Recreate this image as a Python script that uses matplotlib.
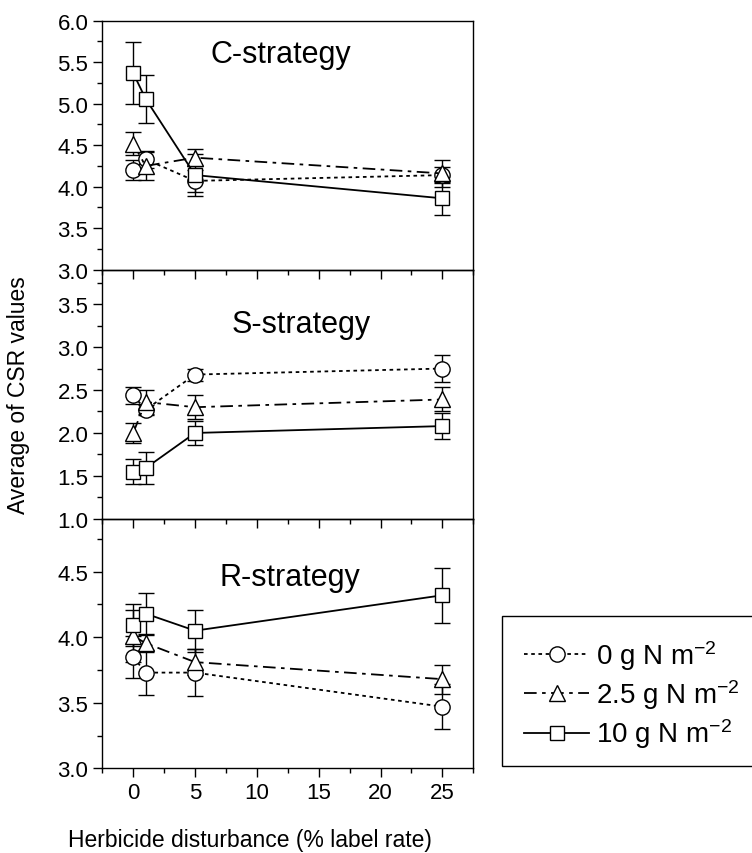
import matplotlib
matplotlib.use('Agg')
import matplotlib.pyplot as plt
from matplotlib.ticker import MultipleLocator
from matplotlib.patches import Rectangle

plt.rcParams['font.family'] = ['Liberation Sans', 'DejaVu Sans']

x = [0, 1, 5, 25]

# C-strategy
c_n0 = [4.20, 4.33, 4.07, 4.14]
c_n0_err = [0.12, 0.10, 0.13, 0.10]
c_n25 = [4.52, 4.25, 4.35, 4.16]
c_n25_err = [0.14, 0.17, 0.10, 0.16]
c_n10 = [5.37, 5.06, 4.14, 3.86]
c_n10_err = [0.37, 0.29, 0.25, 0.20]

# S-strategy
s_n0 = [2.44, 2.27, 2.68, 2.75]
s_n0_err = [0.10, 0.06, 0.07, 0.16]
s_n25 = [2.00, 2.36, 2.30, 2.39]
s_n25_err = [0.12, 0.14, 0.14, 0.14]
s_n10 = [1.55, 1.59, 2.00, 2.08]
s_n10_err = [0.15, 0.19, 0.14, 0.15]

# R-strategy
r_n0 = [3.85, 3.73, 3.73, 3.47]
r_n0_err = [0.16, 0.17, 0.18, 0.17]
r_n25 = [4.01, 3.955, 3.81, 3.68]
r_n25_err = [0.20, 0.07, 0.10, 0.11]
r_n10 = [4.09, 4.18, 4.05, 4.32]
r_n10_err = [0.16, 0.16, 0.16, 0.21]

labels = ['0 g N m$\\mathregular{^{-2}}$', '2.5 g N m$\\mathregular{^{-2}}$', '10 g N m$\\mathregular{^{-2}}$']
styles = [((0, (2, 2)), 'o', 11), ((0, (7, 3, 2, 3)), '^', 12), ('-', 's', 10)]

panels = [
    ('C-strategy', [(c_n0, c_n0_err), (c_n25, c_n25_err), (c_n10, c_n10_err)], (3.0, 6.0), (11.9, 5.50)),
    ('S-strategy', [(s_n0, s_n0_err), (s_n25, s_n25_err), (s_n10, s_n10_err)], (1.0, 3.9), (13.6, 3.18)),
    ('R-strategy', [(r_n0, r_n0_err), (r_n25, r_n25_err), (r_n10, r_n10_err)], (3.0, 4.9), (12.7, 4.40)),
]

fig = plt.figure(figsize=(7.52, 8.54), dpi=100)
left, width, h = 0.136, 0.4934, 0.2916
bottoms = [0.683, 0.3913, 0.0992]

handles = []
for i, (title, series, ylim, tpos) in enumerate(panels):
    ax = fig.add_axes([left, bottoms[i], width, h])
    ax.patch.set_visible(False)
    for (y, e), (ls, mk, ms) in zip(series, styles):
        ax.errorbar(x, y, yerr=e, fmt='none', ecolor='black', elinewidth=1.0,
                    capsize=6, capthick=1.0, zorder=2)
        ln, = ax.plot(x, y, linestyle=ls, color='black', lw=1.3, marker=mk,
                      markersize=ms, markerfacecolor='white', markeredgecolor='black',
                      markeredgewidth=1.0, zorder=3)
        if i == 2:
            handles.append(ln)
    ax.set_xlim(-2.5, 27.5)
    ax.set_ylim(*ylim)
    ax.xaxis.set_major_locator(MultipleLocator(5))
    ax.xaxis.set_minor_locator(MultipleLocator(2.5))
    ax.yaxis.set_major_locator(MultipleLocator(0.5))
    ax.yaxis.set_minor_locator(MultipleLocator(0.25))
    ax.yaxis.set_major_formatter(plt.FormatStrFormatter('%.1f'))
    ax.tick_params(which='both', direction='out', top=False, right=False, labelsize=16)
    ax.tick_params(which='major', length=6.5, width=1.0)
    ax.tick_params(which='minor', length=3.5, width=1.0)
    if i < 2:
        ax.tick_params(axis='x', labelbottom=False)
    for sp in ax.spines.values():
        sp.set_linewidth(1.0)
    ax.text(tpos[0], tpos[1], title, fontsize=22, ha='center', va='baseline')

fig.text(250 / 752, 1 - 847 / 854, 'Herbicide disturbance (% label rate)', fontsize=16.5,
         ha='center', va='baseline')
fig.text(0.024, 0.537, 'Average of CSR values', rotation=90, fontsize=16.5,
         ha='center', va='center')

# legend box runs off the right edge, as in the original
fig.patches.append(Rectangle((502 / 752, 1 - 767 / 854), 0.4, 150 / 854,
                             transform=fig.transFigure, facecolor='white',
                             edgecolor='black', lw=1.0, zorder=0))
leg = fig.legend(handles, labels, loc='center left', bbox_to_anchor=(524 / 752, 1 - 695 / 854),
                 fontsize=20, frameon=False, handlelength=2.35, handletextpad=0.25,
                 borderpad=0, labelspacing=0.2, borderaxespad=0)

fig.savefig('out.png', dpi=100)
